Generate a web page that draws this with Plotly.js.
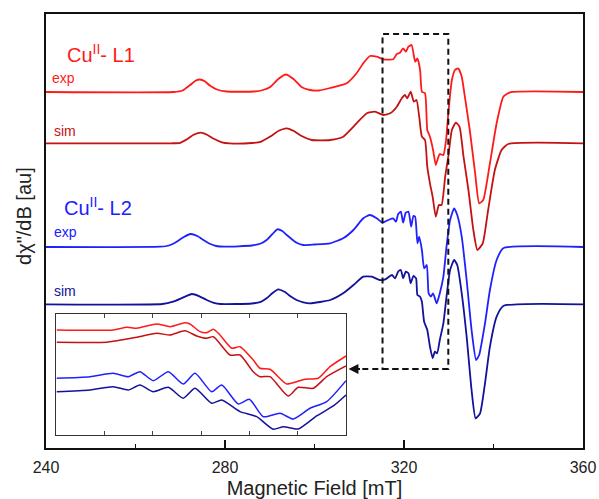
<!DOCTYPE html>
<html><head><meta charset="utf-8">
<script src="https://cdn.plot.ly/plotly-3.0.1.min.js"></script>
<style>html,body{margin:0;padding:0;background:#fff}#chart{width:599px;height:499px}</style>
</head><body><div id="chart"></div>
<script>
// Magnetic field (mT) and derivative signal (au, relative to each trace's baseline)
const fieldL1exp = [240, 268.5, 270.5, 272.2, 273.5, 274.4, 275.4, 276.6, 278.2, 280.4, 286.5, 288.5, 290.1, 291.9, 293.6, 295.3, 297.1, 299.0, 301.0, 303.5, 307.2, 309.4, 310.9, 312.4, 313.9, 315.4, 317.6, 318.4, 319.1, 319.8, 320.4, 321.0, 321.7, 322.5, 323.0, 323.6, 324.0, 324.7, 325.2, 325.8, 326.5, 327.1, 327.7, 328.0, 328.8, 329.4, 329.9, 330.7, 331.4, 332.1, 332.9, 333.6, 334.7, 335.9, 336.8, 337.7, 339.2, 340.7, 342.2, 343.7, 360];
const signalL1exp = [0, 0, 1.5, 7, 11.5, 12.5, 11, 6.5, 2.5, 0.5, 0.5, 2, 5, 13, 17.5, 13, 5, 2, 1.5, 4, 8.7, 18.7, 28.7, 36, 35.3, 32.7, 32.7, 38, 39.3, 43.7, 40.3, 45.3, 47, 30.3, 33.7, 22, 0.3, -1.3, -38, -44.7, -58, -73, -64.7, -62, -63, -48, -21.3, 12, 22, 23.7, 15.3, -4.7, -38, -81.3, -111.3, -108, -71.3, -31.3, -4.7, -0.3, 0];

const fieldL1sim = [240, 268, 270, 271.5, 273, 274.6, 276, 277.5, 279.3, 281, 286, 288, 290.1, 292, 293.8, 295.5, 297, 299.4, 301.5, 303.5, 306.4, 309.4, 311.7, 313.5, 315.4, 316.9, 318.4, 319.5, 320.2, 320.7, 321.5, 322.2, 322.8, 323.4, 324.0, 324.7, 325.2, 325.8, 326.4, 327.1, 327.8, 328.4, 329.2, 329.9, 330.7, 331.6, 332.4, 333.3, 334.4, 335.5, 336.4, 337.6, 338.8, 340.3, 341.8, 343.3, 360];
const signalL1sim = [0, 0, 0.5, 4, 8.5, 10.7, 8.5, 4.5, 1, 0, 0.3, 1.5, 6.7, 12.5, 15, 12, 7.5, 3.3, 3, 3.3, 6.6, 20, 30, 31.6, 28.3, 30, 36.6, 45, 48.3, 45, 51.6, 41.6, 43.3, 26.6, 6.6, 3.3, -23.4, -40, -53.4, -73.4, -61.7, -61.7, -33.4, -13.4, 13.3, 20.6, 16.6, -13.4, -46.7, -86.7, -106.7, -100, -66.7, -26.7, -6.7, -0.7, 0];

const fieldL2exp = [240, 265.5, 267.5, 269.2, 270.8, 272.3, 273.8, 275.2, 276.5, 278, 280, 286, 288, 289.3, 290.6, 291.7, 292.8, 293.8, 295, 296.0, 297.5, 300, 303.5, 306.4, 308.7, 310.9, 312.4, 313.9, 315.2, 316.5, 317.6, 318.2, 318.7, 319.3, 319.8, 320.4, 321.0, 321.6, 322.1, 322.5, 323.0, 323.4, 324.0, 324.5, 325.1, 325.5, 326.0, 326.5, 327.3, 328.0, 328.8, 329.5, 330.3, 331.2, 331.9, 332.9, 334.0, 335.1, 336.1, 336.8, 338.1, 339.2, 340.7, 342.2, 360];
const signalL2exp = [0, 0.3, 1.5, 5.3, 10, 13, 11, 7, 3.5, 1, 0.3, 1.5, 3.5, 7, 13, 17.7, 16, 12, 7.5, 4.3, 2, 2.5, 3.7, 8.7, 17, 28.7, 32, 28.7, 24.3, 27, 28.7, 25.3, 33, 35.3, 24.3, 34.3, 35.3, 20.3, 31, 30.3, 3.7, 10.3, -3, -21.3, -18, -46.3, -49.7, -46.3, -56.3, -46.3, -29.7, 0.3, 27, 38.7, 32, 10.3, -33, -83, -113, -108, -76.3, -43, -13, -1.3, 0];

const fieldL2sim = [240, 266, 268.4, 270.5, 272.6, 274.3, 275.9, 277.5, 279, 286, 288, 289.3, 290.7, 291.9, 293.3, 294.8, 296.0, 297.5, 299, 303.5, 306.4, 308.7, 310.9, 312.8, 314.6, 315.8, 317.3, 318.0, 318.7, 319.3, 319.8, 320.4, 321.0, 321.5, 322.1, 322.7, 323.0, 323.6, 324.0, 324.5, 325.2, 325.8, 326.4, 326.9, 327.4, 328.0, 328.8, 329.5, 330.3, 331.2, 331.9, 332.9, 334.0, 335.1, 336.0, 337.0, 338.1, 339.2, 340.7, 342.2, 360];
const signalL2sim = [0, 0.3, 2.6, 6.5, 10.3, 8, 4.3, 1.5, 0.3, 0.8, 2.5, 6, 11.5, 15, 12.5, 7.5, 4.3, 2, 1, 4.3, 11, 19.3, 27.6, 27.6, 24.3, 25, 29.3, 26, 32.6, 34.3, 26, 32.6, 31, 21, 28.3, 26, 9.3, 7.6, 2.6, -17.4, -25.7, -42.4, -54, -47.4, -49, -35.7, -19, 7.6, 34.3, 44.3, 39.3, 11, -32.4, -85.7, -114, -109, -79, -42.4, -12.4, -1.7, 0];

// vertical stacking offsets (au): L1 exp, L1 sim, L2 exp, L2 sim
const offsets = [356, 304.7, 201, 143.7];

// inset (zoom of the dashed window), own vertical scale
const insetFieldL1exp = [315.04, 317.96, 318.66, 319.17, 320.21, 320.90, 321.67, 321.93, 322.45, 322.79, 323.14, 323.48, 324.09, 324.52, 325.20, 325.55, 326.07, 326.93, 327.45, 327.88, 328.57, 329.17, 330.0];
const insetL1exp = [118, 118, 120.7, 119.7, 124, 121.3, 125.3, 124, 116.3, 115.3, 118.7, 113, 99.7, 101.3, 88, 79.7, 78.7, 64, 66.3, 68.7, 69.7, 81.3, 92];
const insetFieldL1sim = [315.04, 317.62, 318.14, 319.17, 320.21, 320.90, 321.67, 322.28, 322.79, 323.14, 324.00, 324.52, 325.20, 325.55, 326.07, 327.01, 327.53, 328.31, 329.00, 330.0];
const insetL1sim = [105.7, 105.7, 107.3, 110.7, 114.7, 113, 117.3, 112, 109.7, 111.3, 93, 93, 76.3, 71.3, 71.3, 52, 60.7, 59.7, 71.3, 82];
const insetFieldL2exp = [315.04, 316.76, 317.96, 318.74, 319.34, 320.03, 320.81, 321.58, 322.19, 323.05, 323.57, 324.43, 325.00, 325.72, 326.59, 327.27, 328.14, 329.00, 330.0];
const insetL2exp = [69.7, 71.3, 74.7, 71.3, 76.3, 67.3, 76.3, 64, 74.7, 56.3, 63, 44, 48.7, 31.3, 34.7, 29, 39.7, 46.3, 67.3];
const insetFieldL2sim = [315.04, 316.76, 317.96, 318.74, 319.34, 320.03, 320.81, 321.58, 322.19, 323.05, 323.57, 324.52, 325.38, 326.24, 326.76, 327.53, 328.48, 329.34, 330.0];
const insetL2sim = [56.3, 58, 61.3, 58, 63, 56.3, 60.7, 49.7, 59.7, 44.7, 48, 36.3, 31.3, 18.7, 21.3, 19, 32, 42, 53];

const zoomWindowField = [315.2, 329.9];
const zoomWindowSignal = [79, 414];
const xTicks = [240, 280, 320, 360];

const colors = ['#ff1a1a', '#c41212', '#2020ff', '#12129a'];
const FONT = 'Liberation Sans, Arial, sans-serif';

function mainTrace(x, y, off, c) {
  return {x: x, y: y.map(v => v + off), type: 'scatter', mode: 'lines',
    line: {color: c, width: 1.8, shape: 'spline', smoothing: 0.5},
    xaxis: 'x', yaxis: 'y', hoverinfo: 'skip', showlegend: false};
}
function insetTrace(x, y, c) {
  return {x: x, y: y, type: 'scatter', mode: 'lines',
    line: {color: c, width: 1.5, shape: 'spline', smoothing: 0.6},
    xaxis: 'x2', yaxis: 'y2', hoverinfo: 'skip', showlegend: false};
}

const data = [
  mainTrace(fieldL1exp, signalL1exp, offsets[0], colors[0]),
  mainTrace(fieldL1sim, signalL1sim, offsets[1], colors[1]),
  mainTrace(fieldL2exp, signalL2exp, offsets[2], colors[2]),
  mainTrace(fieldL2sim, signalL2sim, offsets[3], colors[3]),
  insetTrace(insetFieldL1exp, insetL1exp, colors[0]),
  insetTrace(insetFieldL1sim, insetL1sim, colors[1]),
  insetTrace(insetFieldL2exp, insetL2exp, colors[2]),
  insetTrace(insetFieldL2sim, insetL2sim, colors[3])
];

const layout = {
  width: 599, height: 499,
  margin: {l: 46, r: 16, t: 14, b: 51},
  paper_bgcolor: '#fff', plot_bgcolor: '#fff',
  font: {family: FONT, color: '#111'},
  xaxis: {
    domain: [0, 1], range: [240, 360], tickvals: xTicks, ticks: 'inside', ticklen: 8, tickwidth: 1.3,
    tickcolor: '#111', showline: true, linecolor: '#111', linewidth: 1.6, mirror: true,
    showgrid: false, zeroline: false, tickfont: {size: 16, color: '#222'}, ticklabelstandoff: 4,
    minor: {dtick: 20, ticks: 'inside', ticklen: 4, tickcolor: '#111', tickwidth: 1.2, showgrid: false},
    title: {text: 'Magnetic Field [mT]', font: {size: 20, color: '#222'}, standoff: 6}
  },
  yaxis: {
    domain: [0, 1], range: [0, 434], showticklabels: false, ticks: '', showline: true,
    linecolor: '#111', linewidth: 1.6, mirror: true, showgrid: false, zeroline: false
  },
  xaxis2: {
    domain: [0.0186, 0.5587], anchor: 'y2', range: [315, 330],
    tickvals: [317.5, 320, 322.5, 325, 327.5], ticks: 'inside', ticklen: 4, tickcolor: '#444',
    showticklabels: false, showline: true, linecolor: '#333', linewidth: 1, mirror: 'ticks',
    showgrid: false, zeroline: false
  },
  yaxis2: {
    domain: [0.030, 0.3088], anchor: 'x2', range: [13, 134], showticklabels: false, ticks: '',
    showline: true, linecolor: '#333', linewidth: 1, mirror: true, showgrid: false, zeroline: false
  },
  shapes: [
    {type: 'rect', xref: 'x', yref: 'y', x0: zoomWindowField[0], x1: zoomWindowField[1],
     y0: zoomWindowSignal[0], y1: zoomWindowSignal[1], line: {color: '#111', width: 2, dash: '6px,4px'}},
    {type: 'line', xref: 'x', yref: 'y', x0: zoomWindowField[1], x1: 309.2,
     y0: zoomWindowSignal[0], y1: zoomWindowSignal[0], line: {color: '#111', width: 2, dash: '6px,4px'}}
  ],
  annotations: [
    {xref: 'x', yref: 'y', x: 307.6, y: zoomWindowSignal[0], axref: 'x', ayref: 'y', ax: 310.5, ay: zoomWindowSignal[0],
     showarrow: true, arrowhead: 2, arrowsize: 1.1, arrowwidth: 1.8, arrowcolor: '#111', text: ''},
    {xref: 'x', yref: 'y', x: 244.2, y: 395, xanchor: 'left', yanchor: 'middle', showarrow: false,
     text: 'Cu<sup>II</sup>- L1', font: {size: 20, color: colors[0]}},
    {xref: 'x', yref: 'y', x: 240.9, y: 370, xanchor: 'left', yanchor: 'middle', showarrow: false,
     text: 'exp', font: {size: 14, color: colors[0]}},
    {xref: 'x', yref: 'y', x: 241.3, y: 317.5, xanchor: 'left', yanchor: 'middle', showarrow: false,
     text: 'sim', font: {size: 14, color: colors[1]}},
    {xref: 'x', yref: 'y', x: 243.5, y: 242, xanchor: 'left', yanchor: 'middle', showarrow: false,
     text: 'Cu<sup>II</sup>- L2', font: {size: 20, color: colors[2]}},
    {xref: 'x', yref: 'y', x: 241.3, y: 216, xanchor: 'left', yanchor: 'middle', showarrow: false,
     text: 'exp', font: {size: 14, color: colors[2]}},
    {xref: 'x', yref: 'y', x: 241.3, y: 157.5, xanchor: 'left', yanchor: 'middle', showarrow: false,
     text: 'sim', font: {size: 14, color: colors[3]}},
    {xref: 'paper', yref: 'paper', x: -0.041, y: 0.5346, xanchor: 'center', yanchor: 'middle', showarrow: false,
     textangle: -90, text: 'dχ"/dB [au]', font: {size: 20, color: '#222'}}
  ]
};

Plotly.newPlot('chart', data, layout, {staticPlot: true, displayModeBar: false});
</script>
</body></html>
